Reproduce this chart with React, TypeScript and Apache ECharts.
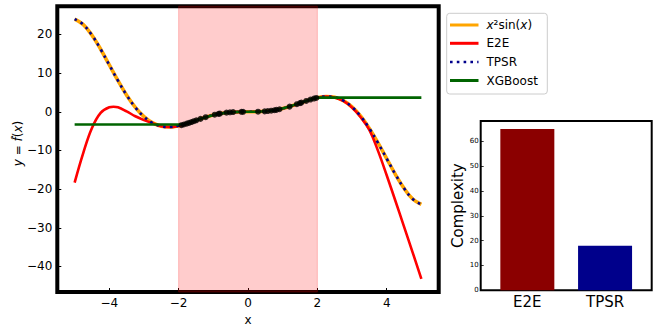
import React, { useEffect, useRef } from 'react';
import * as echarts from 'echarts';

// ---- data ----
const xGrid = [
  -5, -4.75, -4.5, -4.25, -4, -3.75, -3.5, -3.25, -3, -2.75, -2.5, -2.25, -2, -1.75, -1.5, -1.25, -1, -0.75, -0.5, -0.25,
  0, 0.25, 0.5, 0.75, 1, 1.25, 1.5, 1.75, 2, 2.25, 2.5, 2.75, 3, 3.25, 3.5, 3.75, 4, 4.25, 4.5, 4.75, 5,
];
const trueValues = [
  23.973, 22.547, 19.795, 16.166, 12.109, 8.038, 4.297, 1.142, -1.27, -2.887, -3.741, -3.939, -3.637, -3.014, -2.244,
  -1.483, -0.841, -0.383, -0.12, -0.015, 0, 0.015, 0.12, 0.383, 0.841, 1.483, 2.244, 3.014, 3.637, 3.939, 3.741, 2.887,
  1.27, -1.142, -4.297, -8.038, -12.109, -16.166, -19.795, -22.547, -23.973,
];
const e2eX = [
  -5, -4.75, -4.5, -4.25, -4, -3.88, -3.75, -3.5, -3.25, -3, -2.75, -2.5, -2.25, -2, -1.75, -1.5, -1.25, -1, -0.75, -0.5,
  -0.25, 0, 0.25, 0.5, 0.75, 1, 1.25, 1.5, 1.75, 2, 2.25, 2.5, 2.75, 3, 3.25, 3.5, 3.75, 4, 4.25, 4.5, 4.75, 5,
];
const e2eValues = [
  -18.3, -10.6, -4.2, -0.3, 1.15, 1.3, 1.15, 0.1, -1.15, -2.15, -2.98, -3.72, -3.95, -3.64, -3.01, -2.24, -1.48, -0.84,
  -0.38, -0.12, -0.02, 0, 0.02, 0.12, 0.38, 0.84, 1.48, 2.24, 3.01, 3.64, 3.96, 3.72, 2.8, 1.1, -1.4, -4.7, -10.1,
  -16.4, -23.0, -29.7, -36.4, -43.2,
];
const tpsrValues = [
  23.973, 22.547, 19.795, 16.166, 12.109, 8.038, 4.297, 1.142, -1.27, -2.887, -3.741, -3.939, -3.637, -3.014, -2.244,
  -1.483, -0.841, -0.383, -0.12, -0.015, 0, 0.015, 0.12, 0.383, 0.841, 1.483, 2.244, 3.014, 3.637, 3.939, 3.741, 2.887,
  1.27, -1.142, -4.297, -8.038, -12.109, -16.166, -19.795, -22.547, -23.973,
];
const xgbX = [-5, -1.95, -1.77, -1.49, -1.22, -0.96, -0.62, -0.19, 0.29, 0.67, 0.91, 1.2, 1.54, 1.8, 1.97, 5];
const xgbY = [-3.3, -3.3, -3.07, -2.21, -1.4, -0.76, -0.22, -0.01, 0.02, 0.28, 0.65, 1.34, 2.37, 3.16, 3.65, 3.65];
const pointsX = [
  -1.92, -1.85, -1.77, -1.7, -1.63, -1.56, -1.49, -1.37, -1.22, -0.96, -0.85, -0.81, -0.62, -0.52, -0.43, -0.19, -0.14,
  0.29, 0.48, 0.57, 0.67, 0.76, 0.82, 0.91, 1.2, 1.41, 1.5, 1.54, 1.68, 1.8, 1.9, 1.97,
];
const pointsY = [
  -3.46, -3.29, -3.07, -2.87, -2.65, -2.43, -2.21, -1.84, -1.4, -0.76, -0.54, -0.48, -0.22, -0.13, -0.08, -0.01, 0.0,
  0.02, 0.11, 0.18, 0.28, 0.4, 0.49, 0.65, 1.34, 1.96, 2.24, 2.37, 2.81, 3.16, 3.42, 3.58,
];
const xTicks = [-4, -2, 0, 2, 4];
const yTicks = [-40, -30, -20, -10, 0, 10, 20];
const barNames = ['E2E', 'TPSR'];
const barValues = [65, 18];
const barColors = ['#8B0000', '#00008B'];
const barTicks = [0, 10, 20, 30, 40, 50, 60];
const legendNames = ['{i|x}²sin({i|x})', 'E2E', 'TPSR', 'XGBoost'];

const FONT = 'DejaVu Sans';
const fmtNum = (v: number) => (v < 0 ? '\u2212' + String(-v) : String(v));

export default function App() {
  const ref = useRef<HTMLDivElement>(null);
  useEffect(() => {
    document.body.style.margin = '0';
    const chart = echarts.init(ref.current!, null, { renderer: 'svg' });
    const pairs = (xs: number[], ys: number[]) => xs.map((x, i) => [x, ys[i]]);
    const legendRows = [25, 43.3, 62, 80.5];
    const legendStyles = [
      { stroke: '#FFA500', lineWidth: 3 },
      { stroke: '#FF0000', lineWidth: 3 },
      { stroke: '#00008B', lineWidth: 2.6, lineDash: [2.6, 4.2] },
      { stroke: '#006400', lineWidth: 3 },
    ];
    const graphic: any[] = [
      {
        type: 'rect',
        shape: { x: 446.7, y: 13.3, width: 100.6, height: 80.7, r: 3 },
        style: { fill: 'rgba(255,255,255,0.9)', stroke: '#cccccc', lineWidth: 1 },
        z: 10,
      },
      {
        type: 'text',
        x: 18,
        y: 143.5,
        rotation: Math.PI / 2,
        style: {
          text: '{i|y} = {i|f\u0302}({i|x})',
          fontFamily: FONT,
          fontSize: 12,
          fill: '#000',
          align: 'center',
          verticalAlign: 'middle',
          rich: { i: { fontStyle: 'italic', fontFamily: FONT, fontSize: 12 } },
        },
      },
    ];
    legendRows.forEach((y, i) => {
      graphic.push({
        type: 'line',
        shape: { x1: 450, y1: y, x2: 478.5, y2: y },
        style: { ...legendStyles[i], lineCap: 'butt' },
        z: 11,
      });
      graphic.push({
        type: 'text',
        x: 486.5,
        y: y,
        style: {
          text: legendNames[i],
          fontFamily: FONT,
          fontSize: 12,
          fill: '#000',
          verticalAlign: 'middle',
          rich: { i: { fontStyle: 'italic', fontFamily: FONT, fontSize: 12 } },
        },
        z: 11,
      });
    });

    chart.setOption({
      animation: false,
      textStyle: { fontFamily: FONT },
      graphic,
      grid: [
        {
          left: 57.3,
          top: 6.2,
          width: 381.4,
          height: 285.8,
          show: true,
          borderWidth: 4,
          borderColor: '#000',
          backgroundColor: 'transparent',
          containLabel: false,
          outerBoundsMode: 'none',
        },
        {
          left: 480.7,
          top: 121,
          width: 171,
          height: 169.3,
          show: true,
          borderWidth: 2,
          borderColor: '#000',
          backgroundColor: 'transparent',
          containLabel: false,
          outerBoundsMode: 'none',
        },
      ],
      xAxis: [
        {
          type: 'value',
          gridIndex: 0,
          min: -5.5,
          max: 5.5,
          splitLine: { show: false },
          axisLine: { show: false, onZero: false },
          axisTick: { inside: true, length: 4, customValues: xTicks, lineStyle: { color: '#000', width: 1 } },
          axisLabel: { customValues: xTicks, formatter: fmtNum, fontSize: 12, color: '#000', margin: 5, fontFamily: FONT },
          name: 'x',
          nameLocation: 'middle',
          nameGap: 16,
          nameTextStyle: { fontSize: 12, color: '#000', fontFamily: FONT },
        },
        {
          type: 'value',
          gridIndex: 1,
          min: -0.6,
          max: 1.6,
          splitLine: { show: false },
          axisLine: { show: false, onZero: false },
          axisTick: { show: false },
          axisLabel: {
            customValues: [0, 1],
            formatter: (v: number) => barNames[Math.round(v)] ?? '',
            fontSize: 15,
            color: '#000',
            margin: 4,
            fontFamily: FONT,
          },
        },
      ],
      yAxis: [
        {
          type: 'value',
          gridIndex: 0,
          min: -46.6,
          max: 27.3,
          splitLine: { show: false },
          axisLine: { show: false, onZero: false },
          axisTick: { inside: true, length: 4, customValues: yTicks, lineStyle: { color: '#000', width: 1 } },
          axisLabel: { customValues: yTicks, formatter: fmtNum, fontSize: 12, color: '#000', margin: 5, fontFamily: FONT },
        },
        {
          type: 'value',
          gridIndex: 1,
          min: 0,
          max: 68.25,
          splitLine: { show: false },
          axisLine: { show: false, onZero: false },
          axisTick: { inside: true, length: 3, customValues: barTicks, lineStyle: { color: '#000', width: 0.8 } },
          axisLabel: { customValues: barTicks, fontSize: 7, color: '#000', margin: 2, fontFamily: FONT },
          name: 'Complexity',
          nameLocation: 'middle',
          nameGap: 14,
          nameTextStyle: { fontSize: 15, color: '#000', fontFamily: FONT },
        },
      ],
      series: [
        {
          type: 'line',
          xAxisIndex: 0,
          yAxisIndex: 0,
          data: [],
          z: 1,
          silent: true,
          markArea: {
            silent: true,
            itemStyle: { color: 'rgba(255,0,0,0.2)', borderColor: 'rgba(255,0,0,0.22)', borderWidth: 1 },
            data: [[{ xAxis: -2 }, { xAxis: 2 }]],
          },
        },
        {
          name: 'x²sin(x)',
          type: 'line',
          xAxisIndex: 0,
          yAxisIndex: 0,
          data: pairs(xGrid, trueValues),
          smooth: 0.4,
          showSymbol: false,
          lineStyle: { color: '#FFA500', width: 3.6 },
          z: 2,
        },
        {
          name: 'E2E',
          type: 'line',
          xAxisIndex: 0,
          yAxisIndex: 0,
          data: pairs(e2eX, e2eValues),
          smooth: 0.4,
          showSymbol: false,
          lineStyle: { color: '#FF0000', width: 2.6 },
          z: 3,
        },
        {
          name: 'TPSR',
          type: 'line',
          xAxisIndex: 0,
          yAxisIndex: 0,
          data: pairs(xGrid, tpsrValues),
          smooth: 0.4,
          showSymbol: false,
          lineStyle: { color: '#00008B', width: 2.6, type: [2.6, 4.2], cap: 'butt' },
          z: 4,
        },
        {
          name: 'XGBoost',
          type: 'line',
          xAxisIndex: 0,
          yAxisIndex: 0,
          data: pairs(xgbX, xgbY),
          showSymbol: false,
          lineStyle: { color: '#006400', width: 2.6 },
          z: 5,
        },
        {
          name: 'data',
          type: 'scatter',
          xAxisIndex: 0,
          yAxisIndex: 0,
          data: pairs(pointsX, pointsY),
          symbolSize: 6,
          itemStyle: { color: '#000' },
          z: 6,
        },
        {
          name: 'Complexity',
          type: 'bar',
          xAxisIndex: 1,
          yAxisIndex: 1,
          barWidth: 54,
          data: barValues.map((v, i) => ({ value: [i, v], itemStyle: { color: barColors[i] } })),
          z: 2,
        },
      ],
    });
    return () => chart.dispose();
  }, []);
  return <div ref={ref} style={{ width: 664, height: 330 }} />;
}
